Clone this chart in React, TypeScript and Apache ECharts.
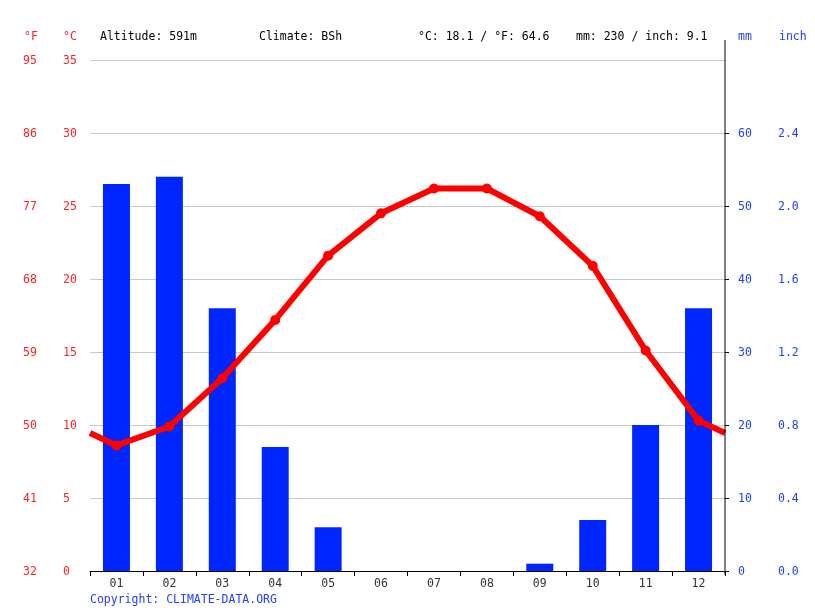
import { useEffect, useRef } from 'react'
import * as echarts from 'echarts'

const months = ['01', '02', '03', '04', '05', '06', '07', '08', '09', '10', '11', '12']
const tempC = [8.6, 9.9, 13.2, 17.2, 21.6, 24.5, 26.2, 26.2, 24.3, 20.9, 15.1, 10.3]
const rainMm = [53, 54, 36, 17, 6, 0, 0, 0, 1, 7, 20, 36]
const mmTicks = [0, 10, 20, 30, 40, 50, 60]
const headerTexts = ['Altitude: 591m', 'Climate: BSh', '°C: 18.1 / °F: 64.6', 'mm: 230 / inch: 9.1']

const MONO = 'DejaVu Sans Mono'
const RED = '#ff2020'
const BLUE = '#2040ff'

export default function App() {
  const chartRef = useRef<HTMLDivElement>(null)

  useEffect(() => {
    if (!chartRef.current) return
    const chart = echarts.init(chartRef.current, null, { renderer: 'svg' })

    // line wraps around the year at the plot edges
    const edge = (tempC[11] + tempC[0]) / 2
    const lineData = [
      { value: [0, edge], symbol: 'none' },
      ...tempC.map((t, i) => ({ value: [i + 0.5, t] })),
      { value: [12, edge], symbol: 'none' },
    ]

    const labelFont = { fontFamily: MONO, fontSize: 11.5 }

    chart.setOption({
      animation: false,
      grid: { left: 90, right: 90, top: 60, bottom: 40 },
      xAxis: [
        {
          type: 'category',
          data: months,
          boundaryGap: true,
          axisLine: { lineStyle: { color: '#000', width: 1 } },
          axisTick: { show: true, interval: 0, length: 5, lineStyle: { color: '#000' } },
          axisLabel: { ...labelFont, color: '#333', margin: 6 },
          splitLine: { show: false },
        },
        { type: 'value', min: 0, max: 12, show: false },
      ],
      yAxis: [
        {
          type: 'value',
          min: 0,
          max: 35,
          interval: 5,
          position: 'left',
          axisLine: { show: false },
          axisTick: { show: false },
          axisLabel: { ...labelFont, color: RED, align: 'left', margin: 27 },
          splitLine: { lineStyle: { color: '#c8c8c8', width: 1 } },
        },
        {
          type: 'value',
          min: 0,
          max: 35,
          interval: 5,
          position: 'left',
          axisLine: { show: false },
          axisTick: { show: false },
          axisLabel: {
            ...labelFont,
            color: RED,
            align: 'left',
            margin: 67,
            formatter: (v: number) => String(Math.round(v * 9 / 5 + 32)),
          },
          splitLine: { show: false },
        },
        {
          type: 'value',
          min: 0,
          max: 70,
          interval: 10,
          position: 'right',
          axisLine: { show: false },
          axisTick: { show: true, length: 4, customValues: mmTicks, lineStyle: { color: '#000' } },
          axisLabel: {
            ...labelFont,
            color: BLUE,
            align: 'left',
            margin: 13,
            customValues: mmTicks,
            formatter: (v: number) => String(v),
          },
          splitLine: { show: false },
        },
        {
          type: 'value',
          min: 0,
          max: 70,
          interval: 10,
          position: 'right',
          axisLine: { show: false },
          axisTick: { show: false },
          axisLabel: {
            ...labelFont,
            color: BLUE,
            align: 'left',
            margin: 53,
            customValues: mmTicks,
            formatter: (v: number) => (v / 25).toFixed(1),
          },
          splitLine: { show: false },
        },
      ],
      series: [
        {
          type: 'bar',
          data: rainMm,
          xAxisIndex: 0,
          yAxisIndex: 2,
          barWidth: '51%',
          itemStyle: { color: '#0026ff' },
          z: 2,
        },
        {
          type: 'line',
          data: lineData,
          xAxisIndex: 1,
          yAxisIndex: 0,
          symbol: 'circle',
          symbolSize: 10,
          lineStyle: { color: '#ff0000', width: 6 },
          itemStyle: { color: '#ff0000' },
          z: 3,
        },
      ],
      graphic: [
        { type: 'line', shape: { x1: 725, y1: 40, x2: 725, y2: 575 }, style: { stroke: '#000', lineWidth: 1 }, z: 10 },
        { type: 'text', x: 24, y: 30, style: { text: '°F', fill: RED, font: `11.5px "${MONO}"` } },
        { type: 'text', x: 63, y: 30, style: { text: '°C', fill: RED, font: `11.5px "${MONO}"` } },
        { type: 'text', x: 738, y: 30, style: { text: 'mm', fill: BLUE, font: `11.5px "${MONO}"` } },
        { type: 'text', x: 779, y: 30, style: { text: 'inch', fill: BLUE, font: `11.5px "${MONO}"` } },
        { type: 'text', x: 100, y: 30, style: { text: headerTexts[0], fill: '#000', font: `11.5px "${MONO}"` } },
        { type: 'text', x: 259, y: 30, style: { text: headerTexts[1], fill: '#000', font: `11.5px "${MONO}"` } },
        { type: 'text', x: 418, y: 30, style: { text: headerTexts[2], fill: '#000', font: `11.5px "${MONO}"` } },
        { type: 'text', x: 576, y: 30, style: { text: headerTexts[3], fill: '#000', font: `11.5px "${MONO}"` } },
        { type: 'text', x: 90, y: 593, style: { text: 'Copyright: CLIMATE-DATA.ORG', fill: BLUE, font: `11.5px "${MONO}"` } },
      ],
    })

    return () => {
      chart.dispose()
    }
  }, [])

  return (
    <div style={{ position: 'fixed', left: 0, top: 0 }}>
      <div ref={chartRef} style={{ width: 815, height: 611 }} />
    </div>
  )
}
